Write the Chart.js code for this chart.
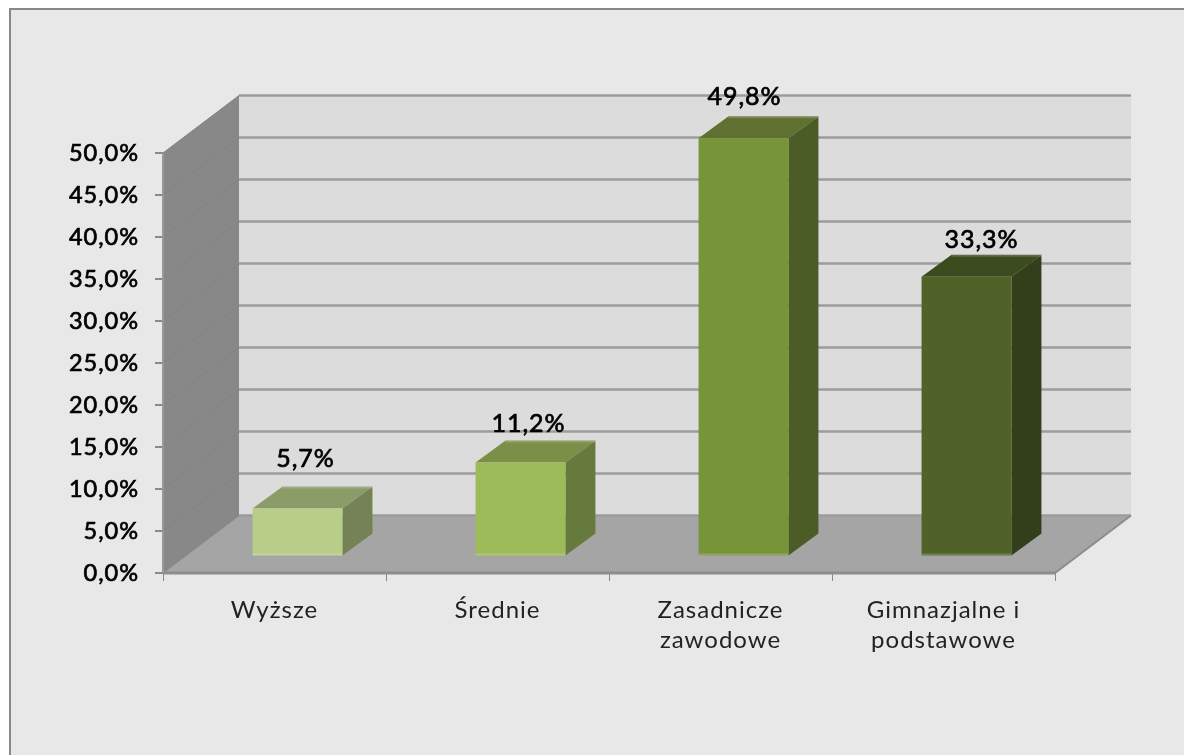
<!DOCTYPE html>
<html>
<head>
<meta charset="utf-8">
<script src="https://cdn.jsdelivr.net/npm/chart.js@4"></script>
<style>
  html, body { margin: 0; background: #ffffff; }
  #wrap { width: 1184px; height: 755px; }
</style>
</head>
<body>
<div id="wrap"><canvas id="educationChart" width="1184" height="755"></canvas></div>
<script>
const categories = ["Wyższe", "Średnie", ["Zasadnicze", "zawodowe"], ["Gimnazjalne i", "podstawowe"]];
const shares = [5.7, 11.2, 49.8, 33.3];
const yMax = 50;
const yStep = 5;

const frontColors = ['#b8cd88', '#9dbb59', '#779439', '#4f6228'];
const topColors = ['#8a9c68', '#7a8f47', '#5f7030', '#3c4c1e'];
const sideColors = ['#758256', '#677a3e', '#4b5c27', '#323f1a'];

// depth of the fake 3d box, and how far the bars sit inside it
const wallDx = 76, wallDy = -57.5;
const barDx = 23, barDy = -16.5;
const sideDx = 30, sideDy = -22;

// data labels are not placed evenly in the original
const labelNudgeX = [8, 8, 1, 15];
const labelLift = [50, 38, 41, 37];

function polygon(ctx, points, fill) {
  ctx.fillStyle = fill;
  ctx.beginPath();
  points.forEach((p, i) => i ? ctx.lineTo(p[0], p[1]) : ctx.moveTo(p[0], p[1]));
  ctx.closePath();
  ctx.fill();
}

function line(ctx, x1, y1, x2, y2, color, width) {
  ctx.strokeStyle = color;
  ctx.lineWidth = width;
  ctx.beginPath();
  ctx.moveTo(x1, y1);
  ctx.lineTo(x2, y2);
  ctx.stroke();
}

function percent(v) {
  return v.toFixed(1).replace('.', ',') + '%';
}

const panelPlugin = {
  id: 'panel',
  beforeDraw(chart) {
    const ctx = chart.ctx;
    ctx.letterSpacing = '1px';
    ctx.save();
    ctx.fillStyle = '#e8e8e8';
    ctx.fillRect(9, 8, chart.width - 9, chart.height - 8);
    ctx.fillStyle = '#888888';
    ctx.fillRect(9, 8, chart.width - 9, 2);
    ctx.fillRect(9, 8, 2, chart.height - 8);
    ctx.restore();
  }
};

const boxPlugin = {
  id: 'box3d',
  beforeDatasetsDraw(chart) {
    const ctx = chart.ctx;
    const a = chart.chartArea;
    const y = chart.scales.y;
    ctx.save();
    // back wall, side wall, floor
    ctx.fillStyle = '#dcdcdc';
    ctx.fillRect(a.left + wallDx, a.top + wallDy, a.right - a.left, a.bottom - a.top);
    polygon(ctx, [[a.left, a.top], [a.left + wallDx, a.top + wallDy], [a.left + wallDx, a.bottom + wallDy], [a.left, a.bottom]], '#888888');
    polygon(ctx, [[a.left, a.bottom], [a.left + wallDx, a.bottom + wallDy], [a.right + wallDx, a.bottom + wallDy], [a.right, a.bottom]], '#a5a5a5');
    y.ticks.forEach(t => {
      const py = y.getPixelForValue(t.value);
      line(ctx, a.left + wallDx, py + wallDy, a.right + wallDx, py + wallDy, '#9c9c9c', 2.5);
      line(ctx, a.left, py, a.left + wallDx, py + wallDy, '#838383', 1);
    });
    line(ctx, a.left, a.bottom, a.right, a.bottom, '#8c8c8c', 3);
    line(ctx, a.right, a.bottom, a.right + wallDx, a.bottom + wallDy, '#8c8c8c', 2);
    line(ctx, a.left, a.top, a.left, a.bottom, '#999999', 2);

    // bars get pushed back into the box
    ctx.translate(barDx, barDy);
    chart.getDatasetMeta(0).data.forEach((bar, i) => {
      const l = bar.x - bar.width / 2, r = bar.x + bar.width / 2;
      polygon(ctx, [[l, bar.y], [l + sideDx, bar.y + sideDy], [r + sideDx, bar.y + sideDy], [r, bar.y]], topColors[i]);
      polygon(ctx, [[r, bar.y], [r + sideDx, bar.y + sideDy], [r + sideDx, bar.base + sideDy], [r, bar.base]], sideColors[i]);
    });
  },
  afterDatasetsDraw(chart) {
    const ctx = chart.ctx;
    // light rim along the bottom and the back of each bar
    chart.getDatasetMeta(0).data.forEach(bar => {
      const l = bar.x - bar.width / 2, r = bar.x + bar.width / 2;
      line(ctx, l, bar.base - 1, r, bar.base - 1, 'rgba(255,255,255,0.18)', 2);
      line(ctx, l + sideDx, bar.y + sideDy + 1, r + sideDx, bar.y + sideDy + 1, 'rgba(255,255,255,0.18)', 2);
    });
    ctx.restore();
    ctx.save();
    ctx.font = '25px Lato';
    ctx.fillStyle = '#000000';
    ctx.strokeStyle = '#000000';
    ctx.lineWidth = 0.7;
    ctx.textAlign = 'center';
    ctx.textBaseline = 'middle';
    chart.getDatasetMeta(0).data.forEach((bar, i) => {
      const tx = bar.x + barDx + labelNudgeX[i];
      const ty = bar.y + barDy - labelLift[i];
      ctx.fillText(percent(shares[i]), tx, ty);
      ctx.strokeText(percent(shares[i]), tx, ty);
    });
    ctx.restore();
  }
};

new Chart(document.getElementById('educationChart'), {
  type: 'bar',
  data: {
    labels: categories,
    datasets: [{
      data: shares,
      backgroundColor: frontColors,
      borderWidth: 0,
      barPercentage: 0.403,
      categoryPercentage: 1,
      clip: false
    }]
  },
  plugins: [panelPlugin, boxPlugin],
  options: {
    responsive: false,
    animation: false,
    layout: { padding: { left: 0, right: 129, top: 153, bottom: 0 } },
    plugins: { legend: { display: false }, tooltip: { enabled: false } },
    scales: {
      x: {
        afterFit: s => { s.height = 182; },
        grid: { drawOnChartArea: false, color: '#888888', tickLength: 8, lineWidth: 1 },
        border: { display: false },
        ticks: { color: '#222222', font: { family: 'Lato', size: 24, lineHeight: 1.25 }, maxRotation: 0, padding: 14 }
      },
      y: {
        min: 0,
        max: yMax,
        afterFit: s => { s.width = 163; },
        grid: { drawOnChartArea: false, color: '#888888', tickLength: 8, lineWidth: 2 },
        border: { display: false },
        ticks: {
          stepSize: yStep,
          color: '#000000',
          textStrokeColor: '#000000',
          textStrokeWidth: 0.7,
          font: { family: 'Lato', size: 23.5 },
          padding: 16,
          callback: v => percent(v)
        }
      }
    }
  }
});
</script>
</body>
</html>
